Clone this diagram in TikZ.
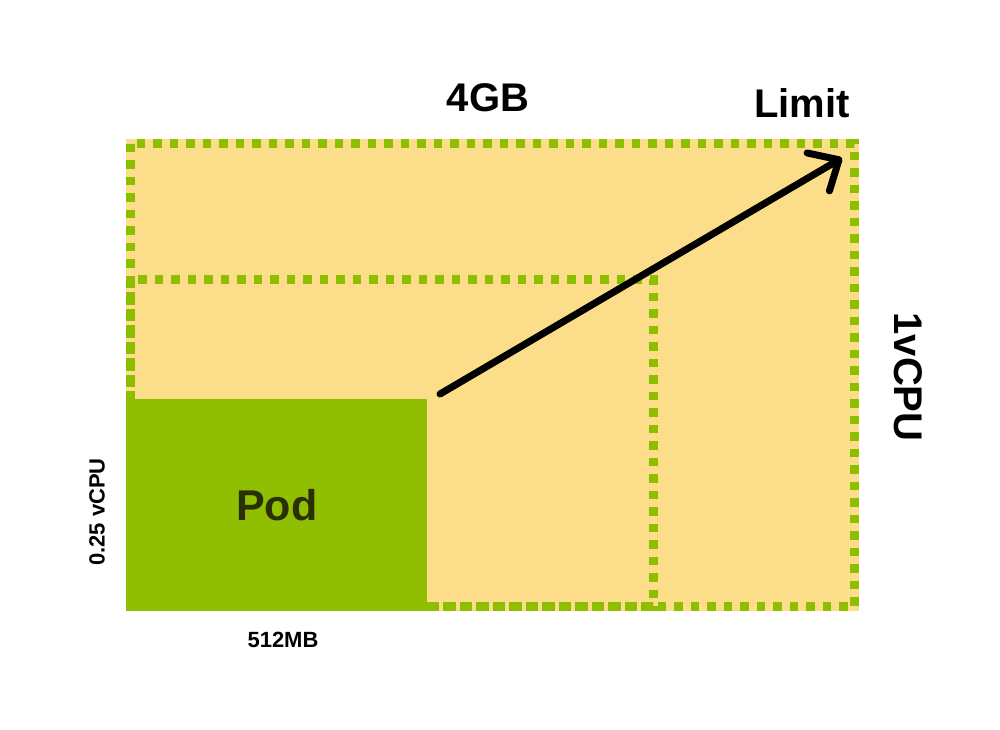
\documentclass[tikz,border=0pt]{standalone}
\usepackage{fontspec}
\setmainfont{Liberation Sans}
\usetikzlibrary{arrows.meta}
\definecolor{fillyel}{HTML}{FBDD8A}
\definecolor{dashgreen}{HTML}{8DBE00}
\definecolor{podgreen}{HTML}{8FBF00}
\definecolor{podtext}{HTML}{2A2F08}
\begin{document}
\begin{tikzpicture}[x=1pt,y=-1pt,
  dotline/.style={draw=dashgreen, line width=9pt, dash pattern=on 8.5pt off 8pt},
  biglbl/.style={font=\bfseries\fontsize{40}{40}\selectfont, inner sep=0pt},
  smalllbl/.style={font=\bfseries\fontsize{22}{22}\selectfont, inner sep=0pt},
  arrowline/.style={line width=7pt, line cap=round, -{Straight Barb[length=24pt,width=44pt,round]}}]
\fill[white] (0,0) rectangle (1000,729);
\useasboundingbox (0,0) rectangle (1000,729);
\fill[fillyel] (126,139) rectangle (859,611);
\draw[dotline] (130.5,279.5) rectangle (653,606.5);
\draw[dotline] (130.5,143.5) rectangle (854.5,606.5);
\node[fill=podgreen, minimum width=301pt, minimum height=212pt, inner sep=0pt, anchor=north west,
  font=\bfseries\fontsize{43}{43}\selectfont, text=podtext] (pod) at (126,399) {Pod};
\node[biglbl] (mem) at (488,98) {4GB};
\node[biglbl] (limit) at (802,103) {Limit};
\node[biglbl, rotate=-90] (cpu) at (908,377) {1vCPU};
\node[smalllbl, rotate=90] (podcpu) at (97,512) {0.25 vCPU};
\node[smalllbl] (podmem) at (283,640) {512MB};
\coordinate (as) at (440,394);
\coordinate (ae) at (842,158);
\draw[arrowline] (as) -- (ae);
\end{tikzpicture}
\end{document}
